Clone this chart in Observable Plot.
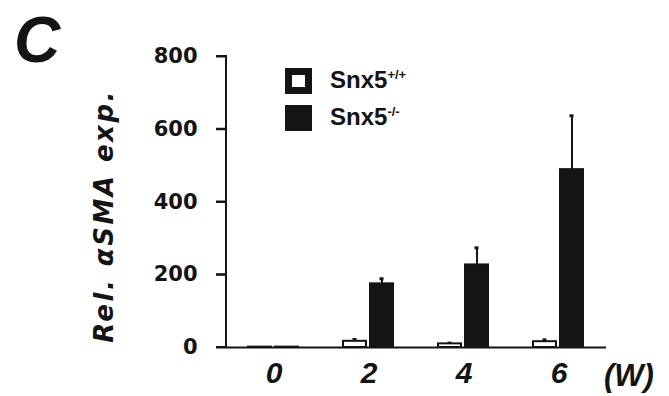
<!DOCTYPE html>
<html>
<head>
<meta charset="utf-8">
<script src="https://cdn.jsdelivr.net/npm/d3@7"></script>
<script src="https://cdn.jsdelivr.net/npm/@observablehq/plot@0.6"></script>
<style>
  html, body { margin: 0; padding: 0; background: #fff; }
  #wrap { width: 669px; height: 396px; overflow: hidden; }
  g[aria-label="fx-axis tick label"] { font-size: 30px; font-style: italic; }
  g[aria-label="y-axis tick label"] { font-family: "DejaVu Sans", sans-serif; font-size: 21px; }
  g[aria-label="y-axis label"] { font-family: "DejaVu Sans", sans-serif; font-size: 26px; font-style: italic; letter-spacing: 2.5px; }
</style>
</head>
<body>
<div id="wrap"></div>
<script>
// ---- data ----
const weeks = ["0", "2", "4", "6"];
const genotypes = ["Snx5+/+", "Snx5-/-"];
const legendSup = ["+/+", "-/-"];
const wtMean = [1, 17, 10, 16];
const wtErr = [0, 5, 2, 5];
const koMean = [1, 175, 227, 489];
const koErr = [0, 14, 47, 148];
const yTicks = [0, 200, 400, 600, 800];

const rows = [];
weeks.forEach((w, i) => {
  rows.push({week: w, genotype: genotypes[0], mean: wtMean[i], err: wtErr[i]});
  rows.push({week: w, genotype: genotypes[1], mean: koMean[i], err: koErr[i]});
});
const errRows = rows.filter(d => d.err > 0);

const ink = "#141414";
const marginLeft = 226;
const tickLen = 10;

const chart = Plot.plot({
  width: 669,
  height: 396,
  marginTop: 56,
  marginBottom: 49,
  marginLeft,
  marginRight: 63,
  style: {fontFamily: "'Liberation Sans', Arial, sans-serif", fontWeight: "bold", fontSize: "21px", color: ink, background: "white"},
  fx: {domain: weeks, padding: 0},
  x: {domain: genotypes, paddingInner: 4 / 28, paddingOuter: 0.768, axis: null},
  y: {domain: [0, 800]},
  color: {domain: genotypes, range: ["white", ink]},
  marks: [
    Plot.axisFx({anchor: "bottom", label: null, tickSize: 0, tickPadding: 14}),
    Plot.axisY({ticks: yTicks, tickSize: tickLen, tickPadding: 19, strokeWidth: 2,
      label: "Rel. αSMA exp.", labelAnchor: "center", labelOffset: 132, labelArrow: false}),
    Plot.ruleX(errRows, {fx: "week", x: "genotype", y1: "mean", y2: d => d.mean + d.err, stroke: ink, strokeWidth: 2}),
    Plot.tickY(errRows, {fx: "week", x: "genotype", y: d => d.mean + d.err, stroke: ink, strokeWidth: 3, insetLeft: 9.5, insetRight: 9.5}),
    Plot.barY(rows, {fx: "week", x: "genotype", y: "mean", fill: "genotype", stroke: ink, strokeWidth: 2}),
    Plot.ruleY([0], {stroke: ink, strokeWidth: 2})
  ]
});

document.getElementById("wrap").appendChild(chart);
const svg = d3.select(chart);

// y scale from the chart, to place the axis line and its ticks
const ys = chart.scale("y");
const yRange = ys && ys.range ? ys.range : [347, 56];
const yDomain = ys && ys.domain ? ys.domain : [0, 800];
const yPos = (ys && typeof ys.apply === "function")
  ? (v) => ys.apply(v)
  : d3.scaleLinear().domain(yDomain).range(yRange);
const yTop = Math.min(...yRange);
const yBot = Math.max(...yRange);

const axisG = svg.append("g").attr("stroke", ink).attr("stroke-width", 2);
axisG.append("line")
  .attr("x1", marginLeft).attr("x2", marginLeft)
  .attr("y1", yBot + 1).attr("y2", yTop - 1);
yTicks.forEach(v => {
  axisG.append("line")
    .attr("x1", marginLeft - tickLen).attr("x2", marginLeft + 1)
    .attr("y1", yPos(v)).attr("y2", yPos(v));
});

// move the axis title down along its own direction
svg.selectAll('g[aria-label="y-axis label"] text').attr("dx", -14);

// annotations: panel letter, unit label, legend
const ann = svg.append("g")
  .attr("text-anchor", "start")
  .style("font-family", "'Liberation Sans', Arial, sans-serif")
  .style("font-weight", "bold")
  .attr("fill", ink);

ann.append("text").attr("x", 14).attr("y", 62)
  .style("font-size", "64px").style("font-style", "italic").text("C");

ann.append("text").attr("x", 604).attr("y", 386)
  .style("font-size", "31px").style("font-style", "italic").text("(W)");

ann.append("rect").attr("x", 288.5).attr("y", 71.5).attr("width", 20).attr("height", 19)
  .attr("fill", "white").attr("stroke", ink).attr("stroke-width", 7);
ann.append("rect").attr("x", 285).attr("y", 105).attr("width", 27).attr("height", 26)
  .attr("fill", ink);
[88, 125].forEach((by, i) => {
  const t = ann.append("text").attr("x", 330).attr("y", by).style("font-size", "24px");
  t.append("tspan").text("Snx5");
  t.append("tspan").attr("dy", -9).style("font-size", "13px").text(legendSup[i]);
});
</script>
</body>
</html>
